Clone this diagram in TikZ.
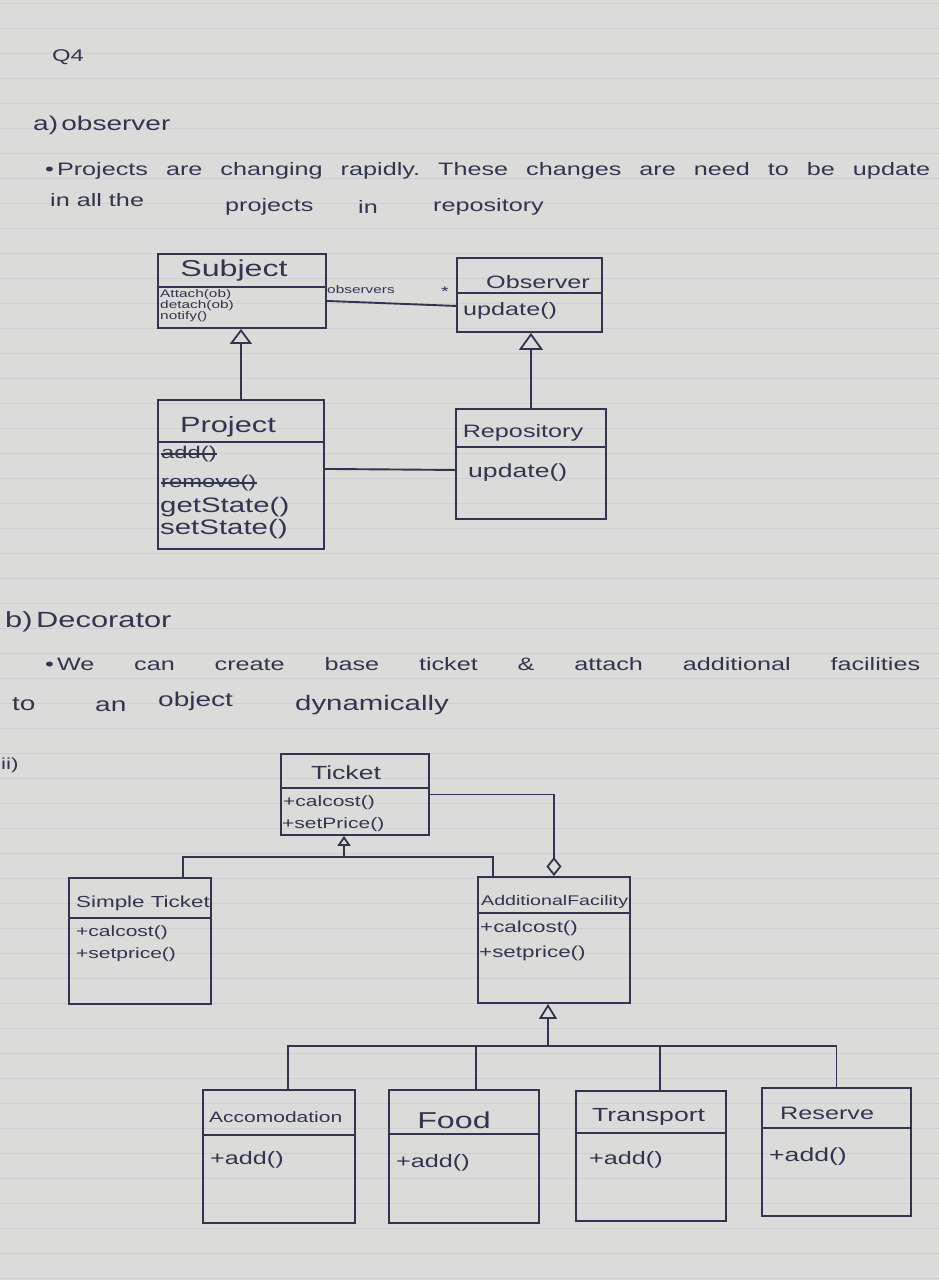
\documentclass[tikz,border=0pt]{standalone}
\usepackage{fontspec}
\newfontfamily\hand[FakeStretch=1.4]{Liberation Sans}
\usetikzlibrary{arrows.meta}
\definecolor{ink}{RGB}{50,53,80}
\definecolor{paper}{RGB}{219,220,217}
\definecolor{rule}{RGB}{205,207,211}
\newcommand{\fs}[1]{\fontsize{#1}{#1}\selectfont}
\newcommand{\spread}[2]{\makebox[#1][s]{#2}}
\frenchspacing
% class box: name, left x, top y, width, height, separator y
\newcommand{\umlbox}[6]{%
  \node[cls, minimum width=#4pt, minimum height=#5pt] (#1) at (#2,#3) {};
  \draw[sep] (#1.west |- 0,#6) -- (#1.east |- 0,#6);}
\begin{document}
\begin{tikzpicture}[x=1pt,y=-1pt,
  every node/.style={inner sep=0pt, text=ink, font=\hand},
  cls/.style={draw=ink, line width=1.9pt, rectangle, anchor=north west, inner sep=0pt},
  sep/.style={draw=ink, line width=1.8pt},
  wire/.style={draw=ink, line width=1.9pt},
  inherit/.style={wire, -{Triangle[open, length=15pt, width=22pt, line width=1.8pt]}},
  aggr/.style={wire, -{Diamond[open, length=19pt, width=15pt, line width=1.8pt]}},
  strike/.style={draw=ink, line width=2pt},
  meth/.style={anchor=west},
  desc/.style={anchor=west, font=\hand\fs{18}},
]
% paper and ruling
\fill[paper] (0,0) rectangle (939,1280);
\useasboundingbox (0,0) rectangle (939,1280);
\foreach \k in {0,...,51} \draw[rule, line width=0.9pt] (0,3+25*\k) -- (939,3+25*\k);

% ---------- part a: observer ----------
\node[font=\hand\fs{17}] (q) at (68,57) {Q4};
\node[desc, font=\hand\fs{20}] (ha) at (33,125) {a)\,observer};
\node[desc] (l1) at (45,171) {\spread{885pt}{•\,Projects are changing rapidly. These changes are need to be update}};
\node[desc] (l2a) at (50,200) {in all the};
\node[desc] (l2b) at (225,207) {projects};
\node[desc] (l2c) at (358,207) {in};
\node[desc] (l2d) at (433,207) {repository};

\umlbox{subject}{157}{253}{168}{74}{287}
\umlbox{observer}{456}{257}{145}{74}{293}
\umlbox{project}{157}{399}{166}{149}{442}
\umlbox{repository}{455}{408}{150}{110}{447}

\node[font=\hand\fs{23}] (subjectname) at (234,271) {Subject};
\node[meth, font=\hand\fs{11}] (attach) at (160,295) {Attach(ob)};
\node[meth, font=\hand\fs{11}] (detach) at (160,306) {detach(ob)};
\node[meth, font=\hand\fs{11}] (notify) at (160,317) {notify()};

\node[font=\hand\fs{18}] (observername) at (538,282) {Observer};
\node[meth, font=\hand\fs{18}] (obsupdate) at (463,311) {update()};

\node[font=\hand\fs{22}] (projectname) at (228,427) {Project};
\node[meth, font=\hand\fs{17}] (padd) at (161,454) {add()};
\node[meth, font=\hand\fs{17}] (premove) at (161,483) {remove()};
\node[meth, font=\hand\fs{21}] (pget) at (160,507) {getState()};
\node[meth, font=\hand\fs{21}] (pset) at (160,529) {setState()};
\draw[strike] (padd.west) -- (padd.east);
\draw[strike] (premove.west) -- (premove.east);

\node[font=\hand\fs{18}] (repositoryname) at (523,433) {Repository};
\node[meth, font=\hand\fs{19}] (repupdate) at (468,473) {update()};

% associations
\draw[wire] ([yshift=-10pt]subject.east) -- ([yshift=-11pt]observer.west);
\node[anchor=west, font=\hand\fs{11}] (obslabel) at (327,290) {observers};
\node[font=\hand\fs{14}] (many) at (445,292) {*};
\draw[inherit] (project.north) -- (project.north |- subject.south);
\draw[inherit, -{Triangle[open, length=17pt, width=24pt, line width=1.8pt]}] (repository.north) -- (repository.north |- observer.south);
\draw[wire] ([yshift=5.5pt]project.east) -- ([yshift=-6pt]repository.west);

% ---------- part b: decorator ----------
\node[desc, font=\hand\fs{22}] (hb) at (5,622) {b)\,Decorator};
\node[desc] (l3) at (45,664) {\spread{875pt}{•\,We can create base ticket \& attach additional facilities}};
\node[desc, font=\hand\fs{20}] (l4a) at (12,704) {to};
\node[desc, font=\hand\fs{20}] (l4b) at (95,706) {an};
\node[desc, font=\hand\fs{20}] (l4c) at (158,701) {object};
\node[desc, font=\hand\fs{21}] (l4d) at (295,705) {dynamically};
\node[anchor=west, font=\hand\fs{16}] (partii) at (1,765) {ii)};

\umlbox{ticket}{280}{753}{148}{81}{788}
\umlbox{simple}{68}{877}{142}{126}{918}
\umlbox{additional}{477}{876}{152}{126}{913}
\umlbox{accom}{202}{1089}{152}{133}{1135}
\umlbox{food}{388}{1089}{150}{133}{1134}
\umlbox{transport}{575}{1090}{150}{130}{1133}
\umlbox{reserve}{761}{1087}{149}{128}{1128}

\node[font=\hand\fs{19}] (ticketname) at (346,773) {Ticket};
\node[meth, font=\hand\fs{15}] (tcalc) at (283,803) {+calcost()};
\node[meth, font=\hand\fs{15}] (tset) at (282,825) {+setPrice()};

\node[meth, font=\hand\fs{16}] (simplename) at (76,903) {Simple Ticket};
\node[meth, font=\hand\fs{15}] (scalc) at (76,933) {+calcost()};
\node[meth, font=\hand\fs{15}] (sset) at (76,955) {+setprice()};

\node[meth, font=\hand\fs{14}] (addname) at (481,902) {AdditionalFacility};
\node[meth, font=\hand\fs{16}] (acalc) at (480,928) {+calcost()};
\node[meth, font=\hand\fs{16}] (aset) at (479,953) {+setprice()};

\node[meth, font=\hand\fs{15}] (accomname) at (209,1117) {Accomodation};
\node[meth, font=\hand\fs{18}] (accomadd) at (210,1160) {+add()};
\node[font=\hand\fs{23}] (foodname) at (454,1120) {Food};
\node[meth, font=\hand\fs{18}] (foodadd) at (396,1163) {+add()};
\node[meth, font=\hand\fs{19}] (transportname) at (592,1117) {Transport};
\node[meth, font=\hand\fs{18}] (transportadd) at (589,1160) {+add()};
\node[meth, font=\hand\fs{18}] (reservename) at (780,1113) {Reserve};
\node[meth, font=\hand\fs{19}] (reserveadd) at (769,1157) {+add()};

% generalisation from Ticket
\coordinate (tj) at (344,857);
\draw[inherit, -{Triangle[open, length=10pt, width=13pt, line width=1.8pt]}] (tj) -- (tj |- ticket.south);
\draw[wire] ([xshift=43pt]simple.north) |- (tj) -| ([xshift=-61pt]additional.north);
% aggregation of the wrapped ticket
\draw[aggr] (ticket.east) -| (additional.north);
% generalisation from AdditionalFacility
\coordinate (fj) at (548,1046);
\draw[inherit, -{Triangle[open, length=15pt, width=18pt, line width=1.8pt]}] (fj) -- (fj |- additional.south);
\draw[wire] ([xshift=9pt]accom.north) |- (fj) -| (reserve.north);
\draw[wire] ([xshift=12pt]food.north) -- ([xshift=12pt]food.north |- fj);
\draw[wire] ([xshift=9pt]transport.north) -- ([xshift=9pt]transport.north |- fj);
\end{tikzpicture}
\end{document}
